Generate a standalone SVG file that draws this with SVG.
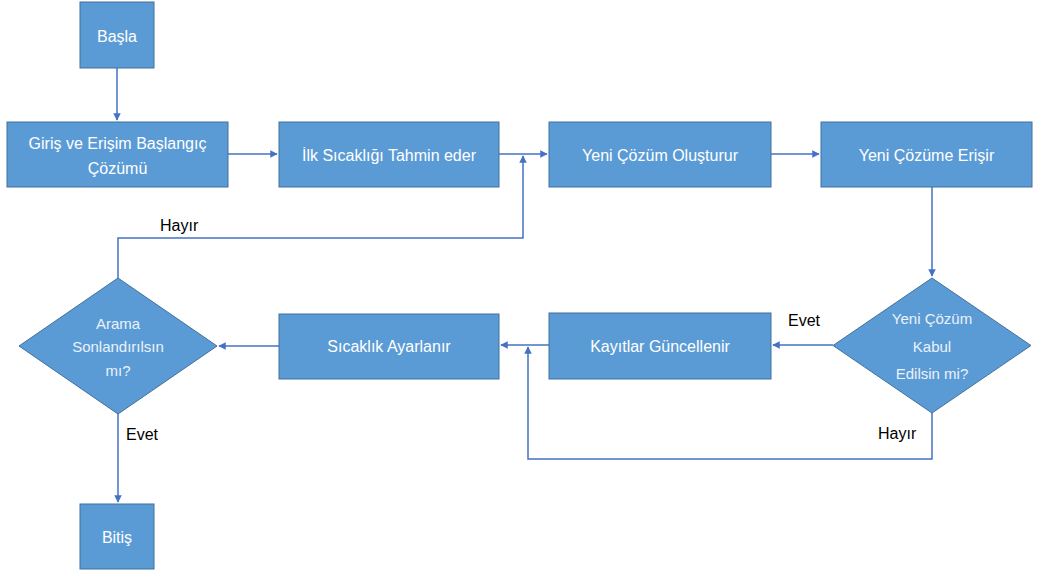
<svg xmlns="http://www.w3.org/2000/svg" width="1037" height="573" viewBox="0 0 1037 573">
  <defs>
    <marker id="arrow" viewBox="0 0 10 10" refX="9" refY="5" markerWidth="5" markerHeight="5" orient="auto-start-reverse">
      <path d="M0,0 L10,5 L0,10 z" fill="#4472C4"/>
    </marker>
    <style>
      .box { fill: #5B9BD5; stroke: #41719C; stroke-width: 1; }
      .lbl { fill: #FFFFFF; font-family: "Liberation Sans", Arial, sans-serif; font-size: 16px; text-anchor: middle; dominant-baseline: central; }
      .dlbl { fill: #EAF2FB; font-family: "Liberation Sans", Arial, sans-serif; font-size: 15px; text-anchor: middle; dominant-baseline: central; }
      .edge { fill: none; stroke: #4472C4; stroke-width: 1.5; }
      .elbl { fill: #000000; font-family: "Liberation Sans", Arial, sans-serif; font-size: 16px; dominant-baseline: central; }
    </style>
  </defs>
  <rect width="1037" height="573" fill="#FFFFFF"/>

  <!-- connectors -->
  <g id="connectors">
    <path class="edge" d="M117,68 V120" marker-end="url(#arrow)"/>
    <path class="edge" d="M228,154 H277" marker-end="url(#arrow)"/>
    <path class="edge" d="M499,154 H547" marker-end="url(#arrow)"/>
    <path class="edge" d="M771,154 H819" marker-end="url(#arrow)"/>
    <path class="edge" d="M932,187 V276" marker-end="url(#arrow)"/>
    <path class="edge" d="M833,345 H773" marker-end="url(#arrow)"/>
    <path class="edge" d="M549,345 H501" marker-end="url(#arrow)"/>
    <path class="edge" d="M279,346 H219" marker-end="url(#arrow)"/>
    <path class="edge" d="M932,413 V459 H528 V347" marker-end="url(#arrow)"/>
    <path class="edge" d="M118,278 V238 H523 V156" marker-end="url(#arrow)"/>
    <path class="edge" d="M118,414 V502" marker-end="url(#arrow)"/>
    <text class="elbl" x="160" y="225">Hayır</text>
    <text class="elbl" x="126" y="434">Evet</text>
    <text class="elbl" x="788" y="320">Evet</text>
    <text class="elbl" x="878" y="433">Hayır</text>
  </g>

  <!-- nodes -->
  <g id="basla">
    <rect class="box" x="80" y="2" width="74" height="66"/>
    <text class="lbl" x="117" y="36">Başla</text>
  </g>
  <g id="giris">
    <rect class="box" x="7" y="122" width="221" height="65"/>
    <text class="lbl" x="117.5" y="143">Giriş ve Erişim Başlangıç</text>
    <text class="lbl" x="117.5" y="168">Çözümü</text>
  </g>
  <g id="ilk-sicaklik">
    <rect class="box" x="279" y="122" width="220" height="65"/>
    <text class="lbl" x="389" y="155">İlk Sıcaklığı Tahmin eder</text>
  </g>
  <g id="yeni-cozum">
    <rect class="box" x="549" y="122" width="222" height="65"/>
    <text class="lbl" x="660" y="155">Yeni Çözüm Oluşturur</text>
  </g>
  <g id="yeni-cozume-erisir">
    <rect class="box" x="821" y="122" width="211" height="65"/>
    <text class="lbl" x="926.5" y="155">Yeni Çözüme Erişir</text>
  </g>
  <g id="kabul">
    <polygon class="box" points="932,278 1031,345.5 932,413 833,345.5"/>
    <text class="dlbl" x="932" y="318">Yeni Çözüm</text>
    <text class="dlbl" x="932" y="346">Kabul</text>
    <text class="dlbl" x="932" y="373">Edilsin mi?</text>
  </g>
  <g id="kayitlar">
    <rect class="box" x="549" y="313" width="222" height="66"/>
    <text class="lbl" x="660" y="346">Kayıtlar Güncellenir</text>
  </g>
  <g id="sicaklik-ayar">
    <rect class="box" x="279" y="314" width="220" height="65"/>
    <text class="lbl" x="389" y="346">Sıcaklık Ayarlanır</text>
  </g>
  <g id="sonlandir">
    <polygon class="box" points="118,278 217,346 118,414 19,346"/>
    <text class="dlbl" x="118" y="323">Arama</text>
    <text class="dlbl" x="118" y="346">Sonlandırılsın</text>
    <text class="dlbl" x="118" y="370">mı?</text>
  </g>
  <g id="bitis">
    <rect class="box" x="80" y="504" width="74" height="65"/>
    <text class="lbl" x="117" y="537">Bitiş</text>
  </g>
</svg>
